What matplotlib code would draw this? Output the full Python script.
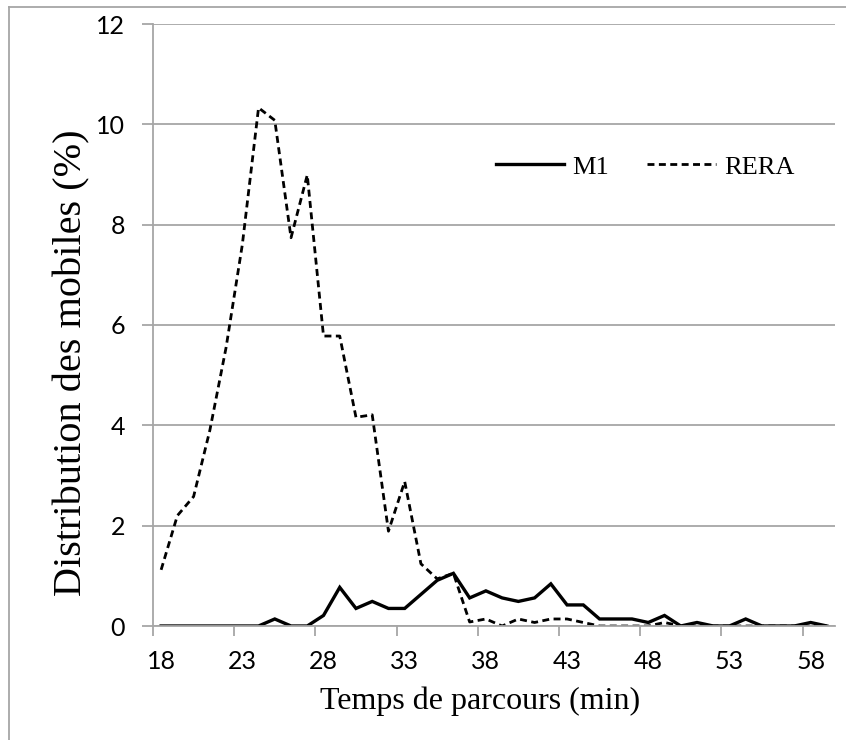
import numpy as np
import matplotlib
matplotlib.use("Agg")
import matplotlib.pyplot as plt
from matplotlib.lines import Line2D

# temps de parcours (min), une catégorie par minute
temps = list(range(18, 60))

m1 = [0, 0, 0, 0, 0, 0, 0, 0.14, 0, 0,
      0.21, 0.77, 0.35, 0.49, 0.35, 0.35, 0.63, 0.91, 1.05, 0.56,
      0.70, 0.56, 0.49, 0.56, 0.84, 0.42, 0.42, 0.14, 0.14, 0.14,
      0.07, 0.21, 0, 0.07, 0, 0, 0.14, 0, 0, 0,
      0.07, 0]

rera = [1.12, 2.2, 2.58, 3.9, 5.55, 7.6, 10.33, 10.08, 7.74, 8.99,
        5.78, 5.78, 4.16, 4.21, 1.89, 2.88, 1.24, 0.94, 1.05, 0.08,
        0.14, 0, 0.14, 0.07, 0.14, 0.14, 0.07, 0, 0, 0,
        0, 0.07, 0, 0, 0, 0, 0, 0, 0, 0,
        0, 0]

xticks = list(range(18, 59, 5))
yticks = [0, 2, 4, 6, 8, 10, 12]

serif = "Liberation Serif"
sans = "Lato"
grey = "#a6a6a6"

plt.rcParams['font.family'] = [sans, 'DejaVu Sans']

fig = plt.figure(figsize=(8.46, 7.4), dpi=100)
ax = fig.add_axes([153 / 846, 1 - 626 / 740, 682 / 846, 602 / 740])

ax.plot(temps, m1, color="black", lw=2.4, label="M1", solid_joinstyle="miter")
ax.plot(temps, rera, color="black", lw=2.0, ls=(0, (2.5, 1.6)), label="RERA")

ax.set_xlim(17.5, 59.5)
ax.set_ylim(0, 12)
ax.set_yticks(yticks)
ax.set_xticks(xticks)
ax.set_xticks([t - 0.5 for t in xticks], minor=True)
ax.grid(axis="y", color=grey, lw=1.3)
ax.set_axisbelow(True)

for s in ["top", "right"]:
    ax.spines[s].set_visible(False)
for s in ["left", "bottom"]:
    ax.spines[s].set_color(grey)
    ax.spines[s].set_linewidth(1.3)

ax.tick_params(axis="y", length=8, width=1.3, color=grey, labelsize=18, pad=12)
ax.tick_params(axis="x", which="major", length=0, labelsize=18, pad=17)
ax.tick_params(axis="x", which="minor", length=7, width=1.3, color=grey)

ax.set_xlabel("Temps de parcours (min)", fontfamily=serif, fontsize=23, va="center")
ax.xaxis.set_label_coords(0.479, -0.125)
ax.set_ylabel("Distribution des mobiles (%)", fontfamily=serif, fontsize=29, va="center")
ax.yaxis.set_label_coords(-0.119, 0.438)

ax.legend(loc="center", bbox_to_anchor=(645 / 846, 1 - 167 / 740), bbox_transform=fig.transFigure,
          ncol=2, frameon=False, prop={"family": serif, "size": 19},
          handlelength=2.6, handletextpad=0.3, columnspacing=1.45, borderpad=0)

# cadre du graphique
fig.add_artist(Line2D([9 / 846, 9 / 846], [0, 1 - 7 / 740], color=grey, lw=1.3, transform=fig.transFigure))
fig.add_artist(Line2D([9 / 846, 1], [1 - 7 / 740, 1 - 7 / 740], color=grey, lw=1.3, transform=fig.transFigure))

fig.savefig("out.png", dpi=100)
